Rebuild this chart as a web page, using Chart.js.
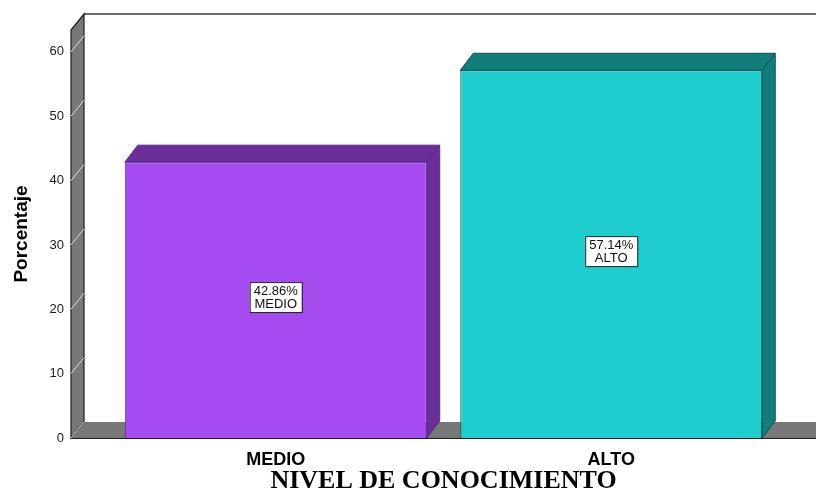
<!DOCTYPE html>
<html>
<head>
<meta charset="utf-8">
<script src="https://cdn.jsdelivr.net/npm/chart.js@4.4.1/dist/chart.umd.min.js"></script>
<style>
  html, body { margin: 0; padding: 0; background: #fff; }
  #wrap { width: 816px; height: 493px; }
</style>
</head>
<body>
<div id="wrap"><canvas id="grafico"></canvas></div>
<script>
const categorias = ["MEDIO", "ALTO"];
const porcentajes = [42.86, 57.14];
const marcasY = [0, 10, 20, 30, 40, 50, 60];
const ejeYMax = 63.4;

const coloresFrente = ["#a64bf0", "#1ecece"];
const coloresSombra = ["#6a2e98", "#127e7b"];
const coloresBorde = ["#5e2a8a", "#0f4f4d"];

const fuente = "'Liberation Sans', Arial, sans-serif";

// profundidad del efecto 3D
const fondo = { dx: 13, dy: -16 };
const prof = { dx: 13, dy: -17 };

const escena3d = {
  id: "escena3d",
  beforeDatasetsDraw(chart) {
    const { ctx, chartArea: a, scales: { y } } = chart;
    const xf = a.left - 37;
    const xb = xf + fondo.dx;
    const y0 = y.getPixelForValue(0);
    const W = chart.width;
    ctx.save();

    // linea superior del plano de fondo
    ctx.strokeStyle = "#3a3a3a";
    ctx.lineWidth = 1.5;
    ctx.beginPath();
    ctx.moveTo(xb, a.top + fondo.dy);
    ctx.lineTo(W, a.top + fondo.dy);
    ctx.stroke();

    // suelo
    ctx.fillStyle = "#787878";
    ctx.beginPath();
    ctx.moveTo(xf, y0);
    ctx.lineTo(xb, y0 + fondo.dy);
    ctx.lineTo(W, y0 + fondo.dy);
    ctx.lineTo(W, y0);
    ctx.closePath();
    ctx.fill();

    // pared izquierda
    ctx.beginPath();
    ctx.moveTo(xf, a.top);
    ctx.lineTo(xb, a.top + fondo.dy);
    ctx.lineTo(xb, y0 + fondo.dy);
    ctx.lineTo(xf, y0);
    ctx.closePath();
    ctx.fill();
    ctx.strokeStyle = "#1e1e1e";
    ctx.lineWidth = 1.2;
    ctx.stroke();

    ctx.beginPath();
    ctx.moveTo(xf, y0 + 0.5);
    ctx.lineTo(W, y0 + 0.5);
    ctx.stroke();

    // marcas sobre la pared
    ctx.strokeStyle = "#dcdcdc";
    ctx.lineWidth = 1;
    y.ticks.forEach(t => {
      const py = y.getPixelForValue(t.value);
      ctx.beginPath();
      ctx.moveTo(xf, py);
      ctx.lineTo(xb, py + fondo.dy);
      ctx.stroke();
    });
    ctx.restore();
  },
  afterDatasetsDraw(chart) {
    const { ctx } = chart;
    const meta = chart.getDatasetMeta(0);
    ctx.save();
    meta.data.forEach((el, i) => {
      const { x, y: top, base, width } = el.getProps(["x", "y", "base", "width"], true);
      const x1 = x - width / 2;
      const x2 = x + width / 2;
      ctx.fillStyle = coloresSombra[i];
      ctx.strokeStyle = coloresBorde[i];
      ctx.lineWidth = 1;

      // cara superior
      ctx.beginPath();
      ctx.moveTo(x1, top);
      ctx.lineTo(x1 + prof.dx, top + prof.dy);
      ctx.lineTo(x2 + prof.dx, top + prof.dy);
      ctx.lineTo(x2, top);
      ctx.closePath();
      ctx.fill();
      ctx.stroke();

      // cara lateral
      ctx.beginPath();
      ctx.moveTo(x2, top);
      ctx.lineTo(x2 + prof.dx, top + prof.dy);
      ctx.lineTo(x2 + prof.dx, base + prof.dy);
      ctx.lineTo(x2, base);
      ctx.closePath();
      ctx.fill();
      ctx.stroke();

      // etiqueta
      ctx.font = "13px " + fuente;
      const lineas = [porcentajes[i].toFixed(2) + "%", categorias[i]];
      const w = Math.max(...lineas.map(l => ctx.measureText(l).width)) + 8;
      const h = 30;
      const cy = (top + base) / 2 - 3;
      ctx.fillStyle = "#fff";
      ctx.fillRect(x - w / 2, cy - h / 2, w, h);
      ctx.strokeStyle = "#222";
      ctx.strokeRect(x - w / 2 + 0.5, cy - h / 2 + 0.5, w, h);
      ctx.fillStyle = "#111";
      ctx.textAlign = "center";
      ctx.textBaseline = "middle";
      ctx.fillText(lineas[0], x, cy - 6);
      ctx.fillText(lineas[1], x, cy + 7);
    });
    ctx.restore();
  }
};

new Chart(document.getElementById("grafico"), {
  type: "bar",
  plugins: [escena3d],
  data: {
    labels: categorias,
    datasets: [{
      data: porcentajes,
      backgroundColor: coloresFrente,
      borderColor: coloresBorde,
      borderWidth: 1,
      categoryPercentage: 1,
      barPercentage: 0.9
    }]
  },
  options: {
    responsive: true,
    maintainAspectRatio: false,
    animation: false,
    layout: { padding: { top: 30, right: 37, left: 0, bottom: 0 } },
    plugins: {
      legend: { display: false },
      tooltip: { enabled: false }
    },
    scales: {
      x: {
        grid: { display: false, drawTicks: false },
        border: { display: false },
        ticks: {
          color: "#000",
          padding: 11,
          font: { family: fuente, size: 18, weight: "bold" }
        },
        title: {
          display: true,
          text: "NIVEL DE CONOCIMIENTO",
          color: "#000",
          font: { family: "'Liberation Serif', 'Times New Roman', serif", size: 26, weight: "bold", lineHeight: 0.8 },
          padding: { top: 0, bottom: 1 }
        },
        afterFit(scale) { scale.height = 55; }
      },
      y: {
        min: 0,
        max: ejeYMax,
        grid: { display: false, drawTicks: true, tickLength: 42 },
        border: { display: false },
        afterBuildTicks(scale) { scale.ticks = marcasY.map(v => ({ value: v })); },
        ticks: {
          color: "#1a1a1a",
          padding: 2,
          font: { family: fuente, size: 13 }
        },
        title: {
          display: true,
          text: "Porcentaje",
          color: "#000",
          font: { family: fuente, size: 19, weight: "bold" },
          padding: { top: 10, bottom: 0 }
        },
        afterFit(scale) { scale.width = 108; }
      }
    }
  }
});
</script>
</body>
</html>
